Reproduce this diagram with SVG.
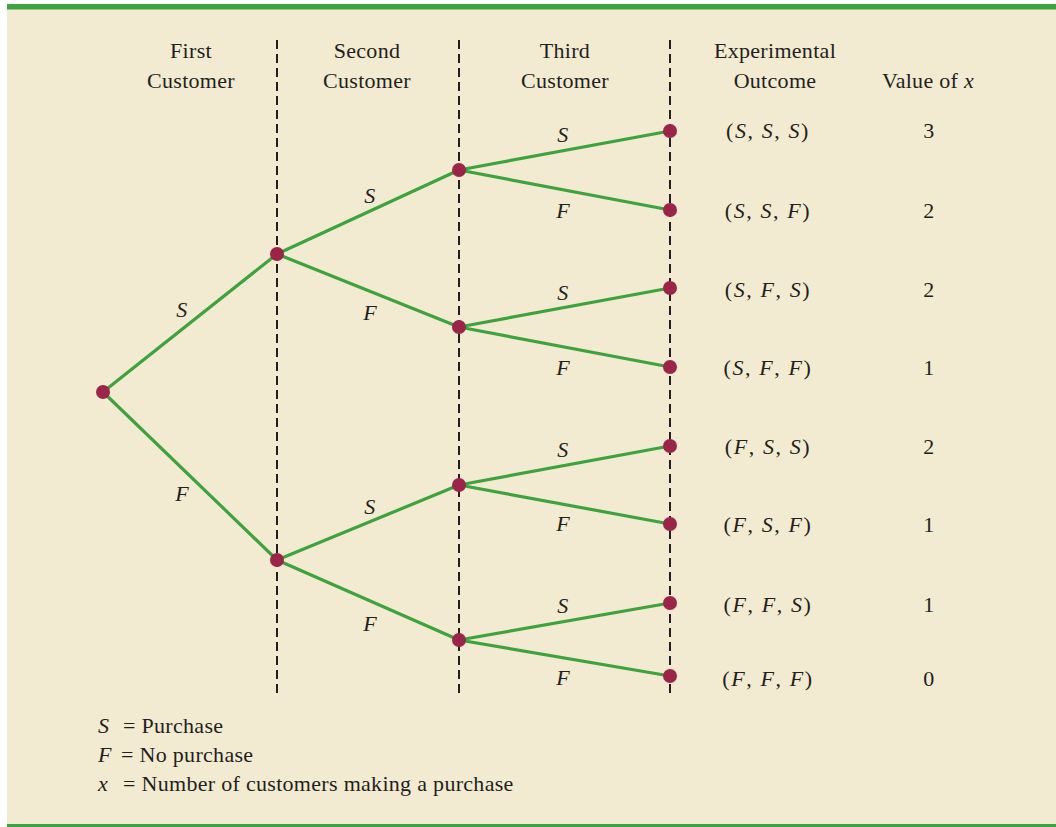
<svg xmlns="http://www.w3.org/2000/svg" width="1056" height="827" viewBox="0 0 1056 827">
<style>
text{font-family:"Liberation Serif","Times New Roman",serif;font-size:22px;letter-spacing:0.3px;fill:#231f20}
.c{text-anchor:middle}
.i{font-style:italic}
.oc{letter-spacing:1.6px}
.br{stroke:#3ea33f;stroke-width:3.2;fill:none;stroke-linecap:round}
.dl{stroke:#231f20;stroke-width:2;stroke-dasharray:9,5}
.nd{fill:#9b2548}
</style>
<rect x="0" y="0" width="1056" height="827" fill="#ffffff"/>
<rect x="7" y="9" width="1049" height="816" fill="#f2ebd1"/>
<rect x="7" y="4" width="1049" height="5.5" fill="#3ea33f"/>
<rect x="7" y="824" width="1049" height="3" fill="#3ea33f"/>
<g id="grid">
<line class="dl" x1="277" y1="40" x2="277" y2="694"/>
<line class="dl" x1="459" y1="40" x2="459" y2="694"/>
<line class="dl" x1="670" y1="40" x2="670" y2="694"/>
</g>
<g id="headers">
<text class="c" x="191" y="58">First</text>
<text class="c" x="191" y="88">Customer</text>
<text class="c" x="367" y="58">Second</text>
<text class="c" x="367" y="88">Customer</text>
<text class="c" x="565" y="58">Third</text>
<text class="c" x="565" y="88">Customer</text>
<text class="c" x="775" y="58">Experimental</text>
<text class="c" x="775" y="88">Outcome</text>
<text class="c" x="928" y="88">Value of <tspan class="i">x</tspan></text>
</g>
<g id="connectors">
<line class="br" x1="103" y1="392" x2="277" y2="254"/>
<line class="br" x1="103" y1="392" x2="277" y2="560"/>
<line class="br" x1="277" y1="254" x2="459" y2="170"/>
<line class="br" x1="277" y1="254" x2="459" y2="327"/>
<line class="br" x1="277" y1="560" x2="459" y2="485"/>
<line class="br" x1="277" y1="560" x2="459" y2="640"/>
<line class="br" x1="459" y1="170" x2="670" y2="131"/>
<line class="br" x1="459" y1="170" x2="670" y2="210"/>
<line class="br" x1="459" y1="327" x2="670" y2="288"/>
<line class="br" x1="459" y1="327" x2="670" y2="367"/>
<line class="br" x1="459" y1="485" x2="670" y2="446"/>
<line class="br" x1="459" y1="485" x2="670" y2="524"/>
<line class="br" x1="459" y1="640" x2="670" y2="603"/>
<line class="br" x1="459" y1="640" x2="670" y2="676"/>
</g>
<g id="branch-labels">
<text class="c i" x="182" y="317">S</text>
<text class="c i" x="182" y="501">F</text>
<text class="c i" x="370" y="203">S</text>
<text class="c i" x="370" y="320">F</text>
<text class="c i" x="370" y="514">S</text>
<text class="c i" x="370" y="631">F</text>
<text class="c i" x="563" y="142">S</text>
<text class="c i" x="563" y="218">F</text>
<text class="c i" x="563" y="300">S</text>
<text class="c i" x="563" y="375">F</text>
<text class="c i" x="563" y="457">S</text>
<text class="c i" x="563" y="531">F</text>
<text class="c i" x="563" y="613">S</text>
<text class="c i" x="563" y="685">F</text>
</g>
<g id="n0"><circle class="nd" cx="103" cy="392" r="7"/></g>
<g id="n1"><circle class="nd" cx="277" cy="254" r="7"/></g>
<g id="n2"><circle class="nd" cx="277" cy="560" r="7"/></g>
<g id="n3"><circle class="nd" cx="459" cy="170" r="7"/></g>
<g id="n4"><circle class="nd" cx="459" cy="327" r="7"/></g>
<g id="n5"><circle class="nd" cx="459" cy="485" r="7"/></g>
<g id="n6"><circle class="nd" cx="459" cy="640" r="7"/></g>
<g id="o1"><circle class="nd" cx="670" cy="131" r="7"/><text class="c oc" x="768" y="138">(<tspan class="i">S</tspan>, <tspan class="i">S</tspan>, <tspan class="i">S</tspan>)</text><text class="c" x="929" y="138">3</text></g>
<g id="o2"><circle class="nd" cx="670" cy="210" r="7"/><text class="c oc" x="768" y="218">(<tspan class="i">S</tspan>, <tspan class="i">S</tspan>, <tspan class="i">F</tspan>)</text><text class="c" x="929" y="218">2</text></g>
<g id="o3"><circle class="nd" cx="670" cy="288" r="7"/><text class="c oc" x="768" y="297">(<tspan class="i">S</tspan>, <tspan class="i">F</tspan>, <tspan class="i">S</tspan>)</text><text class="c" x="929" y="297">2</text></g>
<g id="o4"><circle class="nd" cx="670" cy="367" r="7"/><text class="c oc" x="768" y="375">(<tspan class="i">S</tspan>, <tspan class="i">F</tspan>, <tspan class="i">F</tspan>)</text><text class="c" x="929" y="375">1</text></g>
<g id="o5"><circle class="nd" cx="670" cy="446" r="7"/><text class="c oc" x="768" y="454">(<tspan class="i">F</tspan>, <tspan class="i">S</tspan>, <tspan class="i">S</tspan>)</text><text class="c" x="929" y="454">2</text></g>
<g id="o6"><circle class="nd" cx="670" cy="524" r="7"/><text class="c oc" x="768" y="532">(<tspan class="i">F</tspan>, <tspan class="i">S</tspan>, <tspan class="i">F</tspan>)</text><text class="c" x="929" y="532">1</text></g>
<g id="o7"><circle class="nd" cx="670" cy="603" r="7"/><text class="c oc" x="768" y="612">(<tspan class="i">F</tspan>, <tspan class="i">F</tspan>, <tspan class="i">S</tspan>)</text><text class="c" x="929" y="612">1</text></g>
<g id="o8"><circle class="nd" cx="670" cy="676" r="7"/><text class="c oc" x="768" y="686">(<tspan class="i">F</tspan>, <tspan class="i">F</tspan>, <tspan class="i">F</tspan>)</text><text class="c" x="929" y="686">0</text></g>
<g id="legend">
<text x="98" y="733"><tspan class="i">S</tspan><tspan x="123">= Purchase</tspan></text>
<text x="98" y="762"><tspan class="i">F</tspan><tspan x="121">= No purchase</tspan></text>
<text x="98" y="791"><tspan class="i">x</tspan><tspan x="123">= Number of customers making a purchase</tspan></text>
</g>
</svg>
